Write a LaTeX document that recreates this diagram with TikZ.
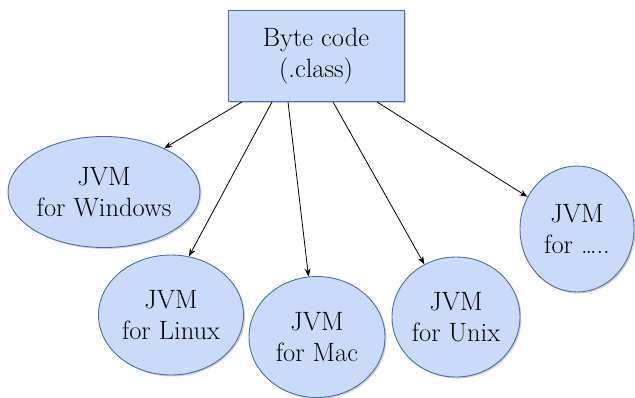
\documentclass[tikz,border=0pt]{standalone}
\usetikzlibrary{shapes.geometric,arrows.meta,shadows}
\definecolor{shapefill}{RGB}{202,219,249}
\definecolor{shapeline}{RGB}{72,108,172}
\tikzset{
  base/.style={fill=shapefill,draw=shapeline,line width=0.9pt,align=center,
    font=\rmfamily\fontsize{26.5}{31.5}\selectfont,inner sep=0pt,
    drop shadow={shadow xshift=1.5pt,shadow yshift=-1.5pt,fill=black!35,opacity=0.5}},
  codebox/.style={base,rectangle,minimum width=176pt,minimum height=91pt},
  jvm/.style={base,ellipse},
  conn/.style={-{Stealth[length=8pt,width=6pt]},line width=0.8pt,black}
}
\begin{document}
\begin{tikzpicture}[x=1pt,y=-1pt]
\useasboundingbox (0,0) rectangle (635,397);
\node[codebox] (box) at (316,56) {Byte code\\(.class)};
\node[jvm,minimum width=192pt,minimum height=111pt] (win) at (104,192) {JVM\\for Windows};
\node[jvm,minimum width=145pt,minimum height=120pt] (lin) at (171,315) {JVM\\for Linux};
\node[jvm,minimum width=136pt,minimum height=121pt] (mac) at (317,337) {JVM\\for Mac};
\node[jvm,minimum width=128pt,minimum height=120pt] (unx) at (456,317) {JVM\\for Unix};
\node[jvm,minimum width=114pt,minimum height=126pt] (etc) at (577,229) {JVM\\for \ldots..};
\draw[conn] ([xshift=-74pt]box.south) -- (win.36.6);
\draw[conn] ([xshift=-44pt]box.south) -- (lin.73);
\draw[conn] ([xshift=-28pt]box.south) -- (mac.98);
\draw[conn] ([xshift=17pt]box.south) -- (unx.121.7);
\draw[conn] ([xshift=61pt]box.south) -- (etc.147.9);
\end{tikzpicture}
\end{document}
